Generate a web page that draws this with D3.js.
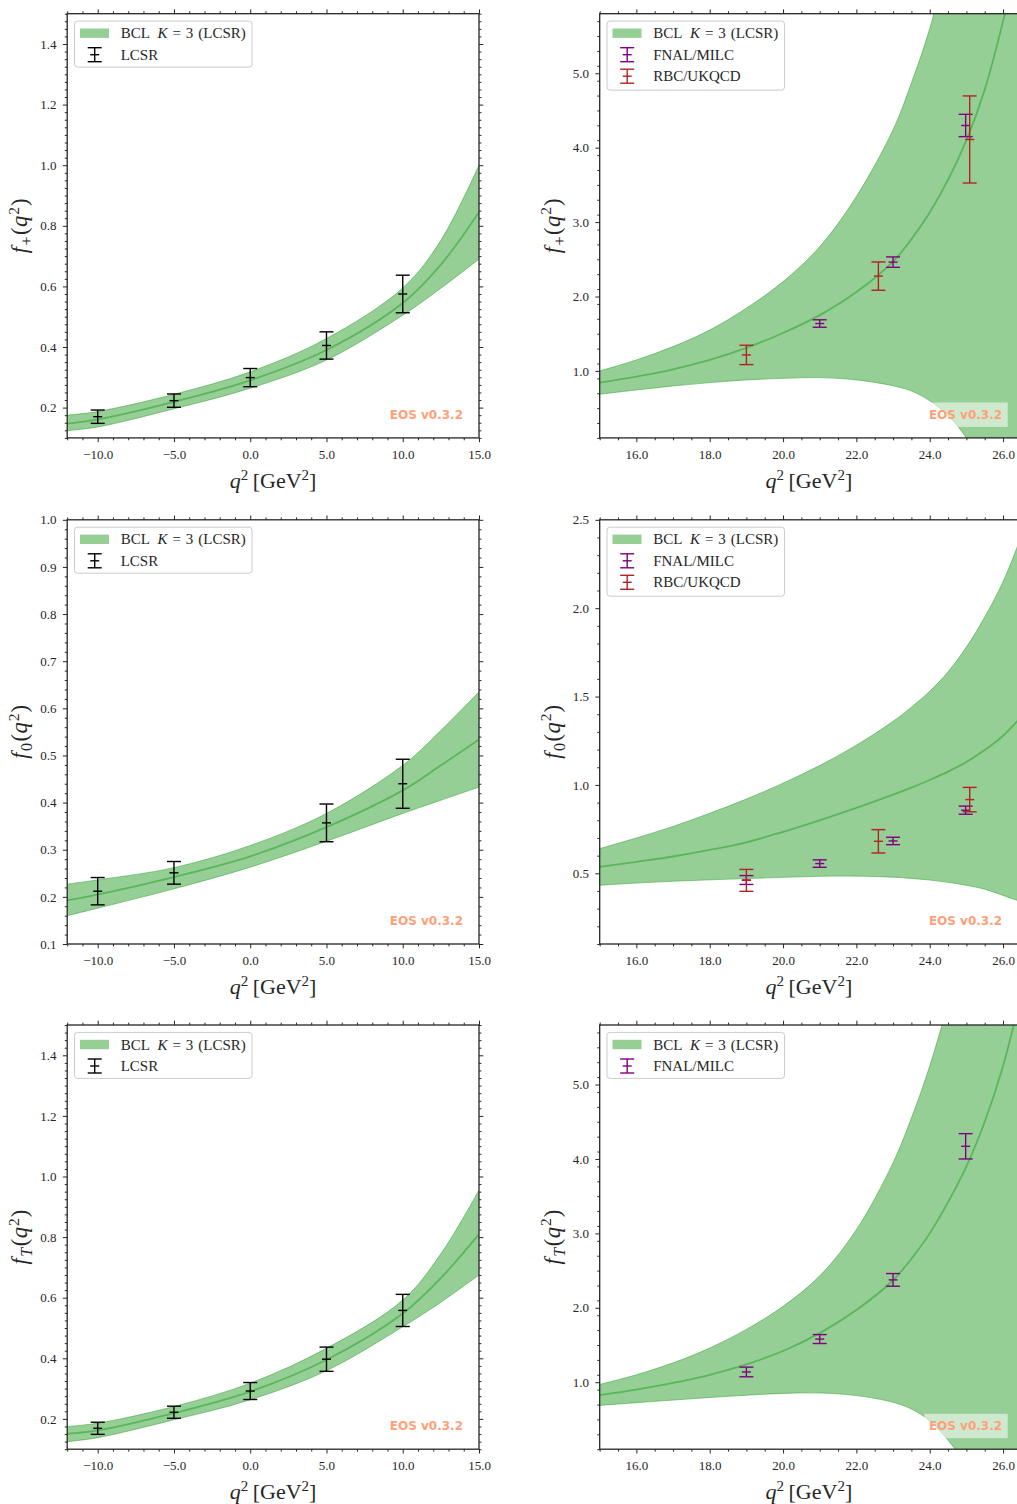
<!DOCTYPE html>
<html><head><meta charset="utf-8">
<script src="https://cdn.jsdelivr.net/npm/d3@7"></script>
<style>
body{margin:0;background:#fff}
svg{display:block}
text{font-family:"Liberation Serif","DejaVu Serif",serif;fill:#262626}
</style>
</head><body>
<svg id="chart" width="1017" height="1504"></svg>
<script>
// ---------------- data ----------------
const qLow  = [-12, -10, -5, 0, 5, 10, 12.5, 15];
const qHigh = [15, 16, 17, 18, 19, 20, 21, 22, 23, 23.5, 24, 24.5, 25, 25.5, 26, 26.41];

// f+ , LCSR region
const fpLowCentral = [0.147, 0.161, 0.219, 0.290, 0.390, 0.545, 0.672, 0.845];
const fpLowUpper   = [0.175, 0.187, 0.244, 0.318, 0.428, 0.595, 0.752, 1.000];
const fpLowLower   = [0.124, 0.136, 0.196, 0.264, 0.357, 0.505, 0.594, 0.690];
// f0 , LCSR region
const f0LowCentral = [0.193, 0.205, 0.242, 0.286, 0.348, 0.426, 0.479, 0.534];
const f0LowUpper   = [0.227, 0.236, 0.262, 0.309, 0.377, 0.479, 0.553, 0.635];
const f0LowLower   = [0.160, 0.176, 0.217, 0.263, 0.318, 0.377, 0.405, 0.433];
// fT , LCSR region
const ftLowCentral = [0.151, 0.162, 0.219, 0.290, 0.395, 0.548, 0.665, 0.810];
const ftLowUpper   = [0.175, 0.186, 0.241, 0.318, 0.433, 0.592, 0.745, 0.955];
const ftLowLower   = [0.125, 0.138, 0.197, 0.263, 0.359, 0.504, 0.585, 0.675];

// f+ , lattice region
const fpHighCentral = [0.843, 0.924, 1.022, 1.148, 1.31, 1.51, 1.75, 2.06, 2.47, 2.77, 3.13, 3.57, 4.10, 4.78, 5.70, 6.60];
const fpHighUpper   = [1.000, 1.148, 1.327, 1.55, 1.843, 2.20, 2.67, 3.345, 4.24, 4.87, 5.60, 6.60, 7.80, 9.20, 11.0, 13.0];
const fpHighLower   = [0.686, 0.744, 0.798, 0.843, 0.879, 0.900, 0.910, 0.879, 0.800, 0.730, 0.600, 0.400, 0.100, -0.35, -1.00, -1.60];
// f0 , lattice region
const f0HighCentral = [0.536, 0.565, 0.595, 0.632, 0.675, 0.735, 0.800, 0.870, 0.945, 0.985, 1.028, 1.075, 1.130, 1.197, 1.278, 1.366];
const f0HighUpper   = [0.640, 0.700, 0.765, 0.840, 0.920, 1.010, 1.110, 1.225, 1.360, 1.440, 1.530, 1.640, 1.780, 1.950, 2.150, 2.360];
const f0HighLower   = [0.432, 0.445, 0.455, 0.463, 0.470, 0.477, 0.483, 0.484, 0.478, 0.471, 0.462, 0.449, 0.432, 0.410, 0.375, 0.345];
// fT , lattice region
const ftHighCentral = [0.826, 0.900, 0.990, 1.100, 1.240, 1.420, 1.660, 1.970, 2.370, 2.660, 3.000, 3.420, 3.900, 4.500, 5.250, 6.050];
const ftHighUpper   = [0.970, 1.100, 1.260, 1.460, 1.710, 2.020, 2.430, 3.050, 3.950, 4.550, 5.250, 6.100, 7.100, 8.400, 10.0, 11.7];
const ftHighLower   = [0.688, 0.725, 0.760, 0.795, 0.825, 0.850, 0.855, 0.820, 0.730, 0.640, 0.480, 0.220, -0.120, -0.550, -1.10, -1.50];

// LCSR points
const lcsrQ      = [-10, -5, 0, 5, 10];
const lcsrFp     = [0.170, 0.223, 0.299, 0.405, 0.575];
const lcsrFpErr  = [0.022, 0.022, 0.030, 0.045, 0.062];
const lcsrF0Q    = [-10, -5, 5, 10];
const lcsrF0     = [0.212, 0.251, 0.357, 0.440];
const lcsrF0Err  = [0.029, 0.024, 0.040, 0.052];
const lcsrFt     = [0.169, 0.222, 0.292, 0.397, 0.558];
const lcsrFtErr  = [0.020, 0.020, 0.028, 0.040, 0.053];

// lattice points
const fnalFpQ = [21, 23, 24.98];
const fnalFp  = [1.637, 2.462, 4.298];
const fnalFpErr = [0.050, 0.070, 0.150];
const rbcQ    = [19, 22.6, 25.09];
const rbcFp   = [1.215, 2.274, 4.110];
const rbcFpErr = [0.130, 0.190, 0.585];
const fnalQ   = [19, 21, 23, 24.98];
const fnalF0  = [0.462, 0.555, 0.683, 0.857];
const fnalF0Err = [0.025, 0.021, 0.021, 0.023];
const rbcF0   = [0.460, 0.681, 0.917];
const rbcF0Err = [0.062, 0.066, 0.069];
const fnalFt  = [1.138, 1.580, 2.375, 4.170];
const fnalFtErr = [0.065, 0.060, 0.085, 0.170];

// tick labels
const xTicksLow  = [-10, -5, 0, 5, 10, 15];
const xTicksHigh = [16, 18, 20, 22, 24, 26];
const yTicksFpLow  = [0.2, 0.4, 0.6, 0.8, 1.0, 1.2, 1.4];
const yTicksF0Low  = [0.1, 0.2, 0.3, 0.4, 0.5, 0.6, 0.7, 0.8, 0.9, 1.0];
const yTicksHigh   = [1.0, 2.0, 3.0, 4.0, 5.0];
const yTicksF0High = [0.5, 1.0, 1.5, 2.0, 2.5];

const watermark = "EOS v0.3.2";

// ---------------- drawing ----------------
const GREEN = "#2ca02c", PURPLE = "#800080", RED = "#b22222", INK = "#262626";
const svg = d3.select("#chart");
const defs = svg.append("defs");
const zip = (q, c, u, l) => q.map((v, i) => ({q: v, c: c[i], u: u[i], l: l[i]}));
const pts = (q, v, e) => q.map((x, i) => ({q: x, v: v[i], e: e[i]}));
const range = (a, b, s) => { const r = []; for (let v = a; v <= b + 1e-9; v += s) r.push(+v.toFixed(4)); return r; };
const CURVE = d3.curveCatmullRom.alpha(0.5);

const rows = [13.7, 519.8, 1025.0];
const H = 424.2;
const colL = {x0: 67.2, x1: 479.0}, colR = {x0: 599.7, x1: 1018.1};

const panels = [
  {col: colL, row: 0, xd: [-12, 15], yd: [0.1, 1.5], xt: xTicksLow, xm: 1, yt: yTicksFpLow, ym: 0.025, sub: "+", subItal: false,
   band: zip(qLow, fpLowCentral, fpLowUpper, fpLowLower), series: [{name: "LCSR", color: "#000", d: pts(lcsrQ, lcsrFp, lcsrFpErr)}]},
  {col: colR, row: 0, xd: [15, 26.41], yd: [0.1, 5.8], xt: xTicksHigh, xm: 0.5, yt: yTicksHigh, ym: 0.2, sub: "+", subItal: false,
   band: zip(qHigh, fpHighCentral, fpHighUpper, fpHighLower), series: [
     {name: "FNAL/MILC", color: PURPLE, d: pts(fnalFpQ, fnalFp, fnalFpErr)},
     {name: "RBC/UKQCD", color: RED, d: pts(rbcQ, rbcFp, rbcFpErr)}]},
  {col: colL, row: 1, xd: [-12, 15], yd: [0.1, 1.0], xt: xTicksLow, xm: 1, yt: yTicksF0Low, ym: 0.02, sub: "0", subItal: false,
   band: zip(qLow, f0LowCentral, f0LowUpper, f0LowLower), series: [{name: "LCSR", color: "#000", d: pts(lcsrF0Q, lcsrF0, lcsrF0Err)}]},
  {col: colR, row: 1, xd: [15, 26.41], yd: [0.1, 2.5], xt: xTicksHigh, xm: 0.5, yt: yTicksF0High, ym: 0.1, sub: "0", subItal: false,
   band: zip(qHigh, f0HighCentral, f0HighUpper, f0HighLower), series: [
     {name: "FNAL/MILC", color: PURPLE, d: pts(fnalQ, fnalF0, fnalF0Err)},
     {name: "RBC/UKQCD", color: RED, d: pts(rbcQ, rbcF0, rbcF0Err)}]},
  {col: colL, row: 2, xd: [-12, 15], yd: [0.1, 1.5], xt: xTicksLow, xm: 1, yt: yTicksFpLow, ym: 0.025, sub: "T", subItal: true,
   band: zip(qLow, ftLowCentral, ftLowUpper, ftLowLower), series: [{name: "LCSR", color: "#000", d: pts(lcsrQ, lcsrFt, lcsrFtErr)}]},
  {col: colR, row: 2, xd: [15, 26.41], yd: [0.1, 5.8], xt: xTicksHigh, xm: 0.5, yt: yTicksHigh, ym: 0.2, sub: "T", subItal: true,
   band: zip(qHigh, ftHighCentral, ftHighUpper, ftHighLower), series: [
     {name: "FNAL/MILC", color: PURPLE, d: pts(fnalQ, fnalFt, fnalFtErr)}]},
];

const fmt = d3.format(".1f");

panels.forEach((p, pi) => {
  const L = p.col.x0, R = p.col.x1, T = rows[p.row], B = T + H;
  const x = d3.scaleLinear().domain(p.xd).range([L, R]);
  const y = d3.scaleLinear().domain(p.yd).range([B, T]);
  const g = svg.append("g");

  defs.append("clipPath").attr("id", "clip" + pi)
    .append("rect").attr("x", L).attr("y", T).attr("width", R - L).attr("height", H);

  // band
  const pg = g.append("g").attr("clip-path", `url(#clip${pi})`);
  pg.append("path").datum(p.band)
    .attr("d", d3.area().x(d => x(d.q)).y0(d => y(d.l)).y1(d => y(d.u)).curve(CURVE))
    .attr("fill", GREEN).attr("fill-opacity", 0.5);
  ["u", "l"].forEach(k => pg.append("path").datum(p.band)
    .attr("d", d3.line().x(d => x(d.q)).y(d => y(d[k])).curve(CURVE))
    .attr("fill", "none").attr("stroke", GREEN).attr("stroke-opacity", 0.5).attr("stroke-width", 1));
  pg.append("path").datum(p.band)
    .attr("d", d3.line().x(d => x(d.q)).y(d => y(d.c)).curve(CURVE))
    .attr("fill", "none").attr("stroke", GREEN).attr("stroke-opacity", 0.55).attr("stroke-width", 1.8);

  // error bars
  p.series.forEach(s => {
    const eg = g.append("g").attr("stroke", s.color).attr("stroke-width", 1.4).attr("fill", "none");
    s.d.forEach(d => {
      const cx = x(d.q), y1 = y(d.v + d.e), y0 = y(d.v - d.e), cy = y(d.v);
      eg.append("line").attr("x1", cx).attr("x2", cx).attr("y1", y1).attr("y2", y0);
      eg.append("line").attr("x1", cx - 7).attr("x2", cx + 7).attr("y1", y1).attr("y2", y1);
      eg.append("line").attr("x1", cx - 7).attr("x2", cx + 7).attr("y1", y0).attr("y2", y0);
      eg.append("line").attr("x1", cx - 4.5).attr("x2", cx + 4.5).attr("y1", cy).attr("y2", cy);
    });
  });

  // axes
  const xMinor = range(p.xd[0], p.xd[1], p.xm).filter(v => !p.xt.some(t => Math.abs(t - v) < 1e-6));
  const yMinor = range(p.yd[0], p.yd[1], p.ym).filter(v => !p.yt.some(t => Math.abs(t - v) < 1e-6));
  const styleAxis = a => { a.select(".domain").remove(); a.selectAll("line").attr("stroke", INK).attr("stroke-width", 1);
    a.selectAll("text").attr("fill", INK).style("font-size", "13px").style("font-family", '"Liberation Serif","DejaVu Serif",serif'); };

  g.append("g").attr("transform", `translate(0,${B})`).call(d3.axisBottom(x).tickValues(p.xt).tickFormat(fmt).tickSize(4.3).tickPadding(7.3)).call(styleAxis);
  g.append("g").attr("transform", `translate(0,${B})`).call(d3.axisBottom(x).tickValues(xMinor).tickFormat("").tickSize(2.4)).call(styleAxis);
  g.append("g").attr("transform", `translate(0,${T})`).call(d3.axisTop(x).tickValues(p.xt).tickFormat("").tickSize(4.3)).call(styleAxis);
  g.append("g").attr("transform", `translate(0,${T})`).call(d3.axisTop(x).tickValues(xMinor).tickFormat("").tickSize(2.4)).call(styleAxis);
  g.append("g").attr("transform", `translate(${L},0)`).call(d3.axisLeft(y).tickValues(p.yt).tickFormat(fmt).tickSize(4.3).tickPadding(6.3)).call(styleAxis);
  g.append("g").attr("transform", `translate(${L},0)`).call(d3.axisLeft(y).tickValues(yMinor).tickFormat("").tickSize(2.4)).call(styleAxis);
  g.append("g").attr("transform", `translate(${R},0)`).call(d3.axisRight(y).tickValues(p.yt).tickFormat("").tickSize(4.3)).call(styleAxis);
  g.append("g").attr("transform", `translate(${R},0)`).call(d3.axisRight(y).tickValues(yMinor).tickFormat("").tickSize(2.4)).call(styleAxis);

  // frame
  g.append("rect").attr("x", L).attr("y", T).attr("width", R - L).attr("height", H)
    .attr("fill", "none").attr("stroke", INK).attr("stroke-width", 1.3);

  // x label
  const xl = g.append("text").attr("x", (L + R) / 2).attr("y", B + 49.6).attr("text-anchor", "middle").style("font-size", "22px");
  xl.append("tspan").attr("font-style", "italic").text("q");
  xl.append("tspan").attr("dy", -8).style("font-size", "15px").text("2");
  xl.append("tspan").attr("dy", 8).text("\u2009[GeV");
  xl.append("tspan").attr("dy", -8).style("font-size", "15px").text("2");
  xl.append("tspan").attr("dy", 8).text("]");

  // y label
  const yl = g.append("text").attr("transform", `translate(${L - 40},${(T + B) / 2}) rotate(-90)`)
    .attr("text-anchor", "middle").style("font-size", "22.5px");
  yl.append("tspan").attr("font-style", "italic").text("f");
  yl.append("tspan").attr("dy", 5).attr("dx", 1.5).style("font-size", "16px").attr("font-style", p.subItal ? "italic" : "normal").text(p.sub);
  yl.append("tspan").attr("dy", -5).attr("dx", 1.5).text("(");
  yl.append("tspan").attr("font-style", "italic").attr("dx", 0.5).text("q");
  yl.append("tspan").attr("dy", -8.5).attr("dx", 1).style("font-size", "15.5px").text("2");
  yl.append("tspan").attr("dy", 8.5).attr("dx", 1).text(")");

  // watermark
  g.append("rect").attr("x", R - 93.8).attr("y", B - 35.4).attr("width", 83.4).attr("height", 24.4)
    .attr("fill", "#fff").attr("fill-opacity", 0.55);
  g.append("text").attr("x", R - 16).attr("y", B - 19.4).attr("text-anchor", "end")
    .style("font-family", '"DejaVu Sans",sans-serif').style("font-weight", "bold").style("font-size", "12px")
    .style("fill", "#ffa07a").text(watermark);

  // legend
  const nRows = 1 + p.series.length;
  const lg = g.append("g");
  lg.append("rect").attr("x", L + 7.3).attr("y", T + 7.4).attr("width", 177.5).attr("height", nRows * 23)
    .attr("rx", 3).attr("fill", "#fff").attr("fill-opacity", 0.8).attr("stroke", "#cccccc").attr("stroke-width", 1);
  const rowC = i => T + 19.5 + i * 21.5;
  lg.append("rect").attr("x", L + 12.8).attr("y", rowC(0) - 4.7).attr("width", 29).attr("height", 9.4)
    .attr("fill", GREEN).attr("fill-opacity", 0.5);
  const t0 = lg.append("text").attr("x", L + 53.5).attr("y", rowC(0) + 5).style("font-size", "15px");
  t0.append("tspan").text("BCL\u2002");
  t0.append("tspan").attr("font-style", "italic").text("K");
  t0.append("tspan").text("\u2004=\u20043\u2004(LCSR)");
  p.series.forEach((s, i) => {
    const c = rowC(i + 1), mx = L + 27.5;
    const mg = lg.append("g").attr("stroke", s.color).attr("stroke-width", 1.4);
    mg.append("line").attr("x1", mx).attr("x2", mx).attr("y1", c - 7).attr("y2", c + 7);
    mg.append("line").attr("x1", mx - 7).attr("x2", mx + 7).attr("y1", c - 7).attr("y2", c - 7);
    mg.append("line").attr("x1", mx - 7).attr("x2", mx + 7).attr("y1", c + 7).attr("y2", c + 7);
    mg.append("line").attr("x1", mx - 4.5).attr("x2", mx + 4.5).attr("y1", c).attr("y2", c);
    lg.append("text").attr("x", L + 53.5).attr("y", c + 5).style("font-size", "15px").text(s.name);
  });
});
</script>
</body></html>
